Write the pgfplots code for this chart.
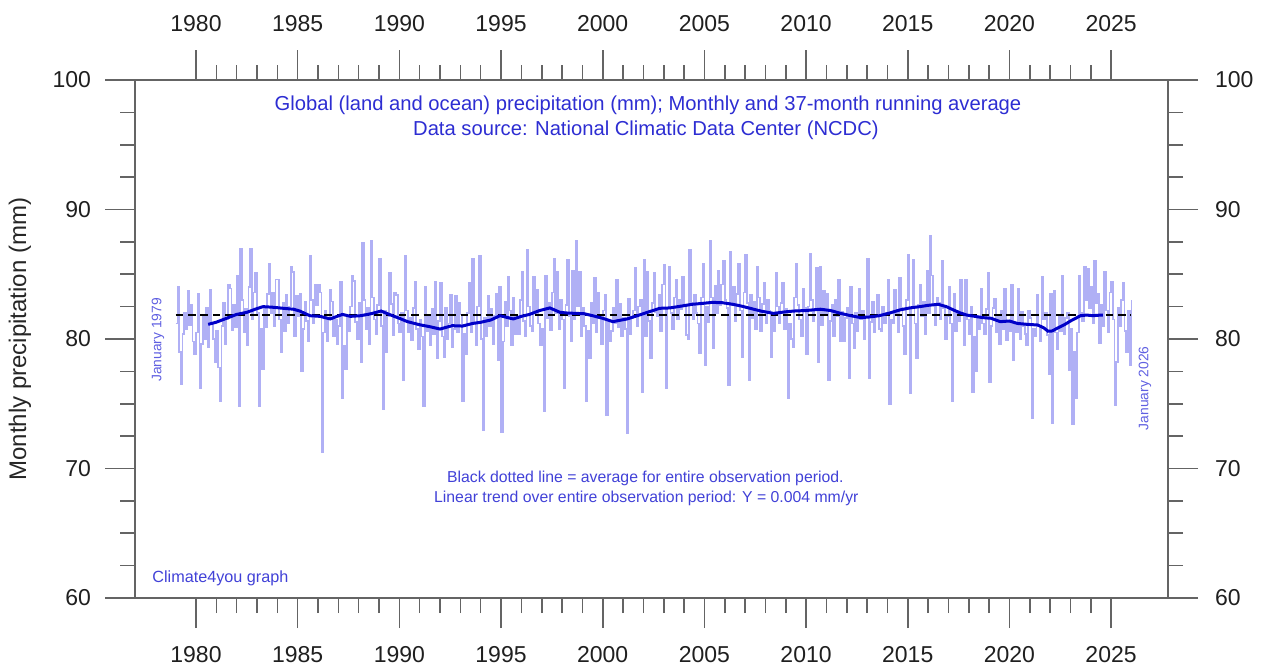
\documentclass[border=0pt]{standalone}
\usepackage{fontspec}
\setmainfont{Liberation Sans}
\usepackage{pgfplots}
\pgfplotsset{compat=1.18}
\definecolor{ttl}{RGB}{45,45,210}
\definecolor{lbl}{RGB}{65,65,215}
\definecolor{jan}{RGB}{95,95,225}
\definecolor{mon}{RGB}{176,176,245}
\definecolor{avg}{RGB}{0,0,200}
\definecolor{axg}{RGB}{100,100,100}
\pgfplotsset{
  common/.style={
    at={(0,0)}, anchor=south west,
    scale only axis, width=516.5pt, height=259pt,
    xmin=1977, xmax=2027.8, ymin=60, ymax=100,
    xtick={1980,1985,...,2025},
    ytick={60,70,80,90,100},
    tick align=outside, major tick length=15pt, minor tick length=7.5pt,
    /pgf/number format/1000 sep={},
    /pgf/number format/assume math mode=true,
    ticklabel style={font=\fontsize{11.5}{13}\selectfont, text=black!88},
  }
}
\begin{document}
\begin{tikzpicture}
\useasboundingbox (-67.5pt,-34pt) rectangle (564pt,299pt);
\begin{axis}[common,
  minor x tick num=4, minor y tick num=3,
  xtick pos=both, ytick pos=both,
  xticklabel pos=lower, yticklabel pos=left,
  xticklabel style={yshift=-5.5pt},
  yticklabel style={xshift=-3.5pt},
  axis line style={axg, line width=0.8pt},
  tick style={axg, line width=0.8pt},
  clip mode=individual,
]
\addplot[mon, line width=0.85pt, const plot mark left] table[x expr={1979+\coordindex/12}, y=p, row sep=\\] {
p\\
81.2\\ 84.0\\ 79.0\\ 76.5\\ 80.4\\ 82.0\\ 80.8\\ 83.7\\ 81.1\\ 82.6\\ 79.8\\ 78.8\\
80.5\\ 83.5\\ 76.2\\ 79.6\\ 81.8\\ 80.0\\ 82.4\\ 79.4\\ 83.8\\ 81.2\\ 80.0\\ 78.2\\
80.6\\ 77.8\\ 75.2\\ 81.0\\ 82.8\\ 79.6\\ 81.5\\ 84.2\\ 83.9\\ 80.7\\ 82.6\\ 80.9\\
84.9\\ 74.8\\ 87.0\\ 83.0\\ 80.5\\ 82.3\\ 79.5\\ 84.0\\ 87.0\\ 81.5\\ 83.6\\ 85.1\\
82.0\\ 74.8\\ 80.8\\ 77.7\\ 82.5\\ 80.9\\ 83.5\\ 85.8\\ 82.0\\ 83.6\\ 81.0\\ 84.6\\
84.6\\ 81.5\\ 79.0\\ 82.8\\ 80.6\\ 83.4\\ 81.2\\ 82.5\\ 85.6\\ 85.2\\ 80.2\\ 83.3\\
81.8\\ 83.5\\ 77.5\\ 80.8\\ 82.9\\ 81.4\\ 79.8\\ 86.4\\ 83.0\\ 81.2\\ 84.2\\ 82.6\\
84.2\\ 83.6\\ 71.3\\ 80.5\\ 82.2\\ 79.8\\ 81.6\\ 83.8\\ 82.9\\ 80.2\\ 81.5\\ 79.6\\
81.0\\ 84.4\\ 75.4\\ 79.5\\ 77.7\\ 81.8\\ 80.6\\ 82.5\\ 84.9\\ 84.5\\ 81.3\\ 80.0\\
82.8\\ 78.2\\ 87.4\\ 83.0\\ 80.8\\ 82.4\\ 79.6\\ 87.6\\ 83.2\\ 81.5\\ 80.4\\ 82.6\\
86.2\\ 81.0\\ 74.6\\ 82.2\\ 79.0\\ 81.8\\ 85.1\\ 82.7\\ 80.3\\ 83.6\\ 83.4\\ 81.2\\
80.5\\ 82.0\\ 76.8\\ 86.4\\ 82.2\\ 80.5\\ 81.6\\ 79.9\\ 82.4\\ 84.4\\ 80.8\\ 79.2\\
81.5\\ 80.2\\ 74.8\\ 84.0\\ 80.6\\ 81.8\\ 79.5\\ 82.3\\ 80.4\\ 84.4\\ 78.5\\ 81.4\\
84.3\\ 80.2\\ 78.6\\ 82.4\\ 80.0\\ 81.2\\ 83.4\\ 79.4\\ 80.8\\ 83.3\\ 80.5\\ 82.8\\
81.9\\ 75.2\\ 80.4\\ 78.8\\ 82.0\\ 84.3\\ 80.5\\ 86.2\\ 81.2\\ 79.5\\ 82.5\\ 86.4\\
80.0\\ 73.0\\ 81.6\\ 80.2\\ 83.3\\ 81.0\\ 82.3\\ 79.6\\ 81.8\\ 83.5\\ 78.4\\ 84.0\\
72.8\\ 79.8\\ 82.9\\ 81.0\\ 84.8\\ 82.2\\ 79.5\\ 83.2\\ 80.4\\ 81.6\\ 80.4\\ 83.0\\
85.2\\ 81.4\\ 80.2\\ 86.9\\ 82.5\\ 81.0\\ 80.6\\ 84.8\\ 82.0\\ 83.8\\ 81.2\\ 79.5\\
80.8\\ 74.4\\ 84.9\\ 81.6\\ 82.8\\ 80.7\\ 83.6\\ 86.2\\ 82.0\\ 85.2\\ 80.8\\ 83.0\\
81.5\\ 76.2\\ 82.6\\ 86.1\\ 81.8\\ 79.8\\ 85.3\\ 81.5\\ 87.6\\ 82.5\\ 85.2\\ 80.2\\
82.4\\ 81.0\\ 75.2\\ 80.6\\ 78.5\\ 82.8\\ 81.2\\ 84.7\\ 80.5\\ 83.6\\ 81.8\\ 79.6\\
82.2\\ 83.4\\ 74.1\\ 81.5\\ 79.8\\ 80.6\\ 82.4\\ 81.2\\ 84.6\\ 80.9\\ 82.7\\ 80.2\\
81.6\\ 80.8\\ 72.7\\ 83.1\\ 80.4\\ 81.6\\ 82.2\\ 85.5\\ 81.0\\ 82.5\\ 83.0\\ 75.9\\
86.1\\ 80.2\\ 85.2\\ 81.4\\ 78.5\\ 82.8\\ 85.1\\ 82.1\\ 81.8\\ 83.4\\ 80.6\\ 84.2\\
85.7\\ 76.2\\ 82.4\\ 85.6\\ 82.0\\ 80.8\\ 83.2\\ 84.6\\ 81.5\\ 83.0\\ 82.3\\ 84.8\\
82.6\\ 80.3\\ 80.0\\ 86.9\\ 82.8\\ 81.5\\ 83.4\\ 82.0\\ 81.2\\ 78.9\\ 83.2\\ 85.8\\
78.0\\ 82.5\\ 81.3\\ 87.6\\ 83.2\\ 79.3\\ 84.1\\ 82.0\\ 85.3\\ 82.6\\ 84.2\\ 86.0\\
83.0\\ 82.4\\ 76.4\\ 86.7\\ 82.6\\ 84.0\\ 81.4\\ 83.5\\ 85.8\\ 82.2\\ 78.6\\ 83.6\\
86.5\\ 82.8\\ 76.8\\ 83.4\\ 81.6\\ 82.9\\ 80.8\\ 85.6\\ 83.2\\ 80.6\\ 82.7\\ 84.3\\
81.2\\ 83.0\\ 82.2\\ 78.6\\ 81.8\\ 80.6\\ 85.1\\ 82.5\\ 81.2\\ 82.8\\ 84.3\\ 80.8\\
82.3\\ 75.4\\ 81.2\\ 80.0\\ 79.4\\ 83.2\\ 85.8\\ 82.6\\ 81.5\\ 80.2\\ 83.9\\ 82.4\\
78.8\\ 82.5\\ 86.6\\ 83.0\\ 81.4\\ 82.2\\ 85.5\\ 78.2\\ 85.6\\ 81.1\\ 83.7\\ 82.0\\
83.5\\ 76.8\\ 81.4\\ 82.6\\ 80.2\\ 83.0\\ 81.8\\ 84.6\\ 79.8\\ 82.1\\ 79.8\\ 81.6\\
82.4\\ 77.0\\ 84.0\\ 81.2\\ 79.3\\ 82.0\\ 80.6\\ 83.9\\ 81.5\\ 82.2\\ 80.0\\ 81.8\\
86.2\\ 77.0\\ 81.3\\ 82.9\\ 80.5\\ 81.8\\ 83.4\\ 80.8\\ 80.6\\ 82.5\\ 81.2\\ 82.0\\
84.6\\ 75.0\\ 81.5\\ 81.2\\ 83.8\\ 82.0\\ 80.5\\ 84.7\\ 82.4\\ 81.0\\ 78.8\\ 83.0\\
86.5\\ 75.8\\ 82.4\\ 86.1\\ 81.2\\ 78.5\\ 82.6\\ 84.2\\ 81.8\\ 82.9\\ 80.4\\ 85.3\\
82.0\\ 88.0\\ 84.9\\ 82.6\\ 81.1\\ 83.2\\ 82.8\\ 81.5\\ 86.0\\ 82.4\\ 80.0\\ 81.8\\
84.0\\ 81.2\\ 75.2\\ 83.5\\ 80.6\\ 82.2\\ 81.4\\ 84.6\\ 82.0\\ 79.5\\ 84.6\\ 81.5\\
80.4\\ 82.5\\ 75.9\\ 80.2\\ 77.5\\ 81.6\\ 80.8\\ 83.9\\ 81.2\\ 80.4\\ 82.3\\ 85.1\\
76.7\\ 81.0\\ 82.4\\ 83.1\\ 80.5\\ 81.8\\ 79.6\\ 82.2\\ 80.8\\ 83.9\\ 79.9\\ 81.4\\
80.6\\ 84.2\\ 78.4\\ 81.2\\ 80.5\\ 83.9\\ 80.0\\ 82.1\\ 81.0\\ 80.4\\ 79.5\\ 82.2\\
81.6\\ 73.9\\ 80.8\\ 80.2\\ 83.4\\ 81.0\\ 79.8\\ 84.8\\ 81.5\\ 82.0\\ 80.3\\ 77.3\\
83.5\\ 73.5\\ 83.7\\ 80.5\\ 79.2\\ 81.8\\ 80.6\\ 84.9\\ 80.4\\ 81.6\\ 82.0\\ 77.6\\
80.8\\ 73.4\\ 79.0\\ 75.4\\ 80.5\\ 84.9\\ 82.0\\ 81.4\\ 85.6\\ 83.0\\ 85.4\\ 82.4\\
84.0\\ 81.2\\ 86.0\\ 82.8\\ 83.5\\ 79.7\\ 82.6\\ 81.0\\ 85.2\\ 82.2\\ 80.5\\ 83.6\\
84.4\\ 81.5\\ 74.9\\ 78.2\\ 82.4\\ 81.0\\ 83.0\\ 84.3\\ 80.6\\ 79.0\\ 82.2\\ 78.0\\
83.0\\
};
\addplot[black, line width=0.8pt, dash pattern=on 3.8pt off 2.4pt] coordinates {(1979,81.85) (2026,81.85)};
\addplot[avg, line width=1.5pt] coordinates {
(1980.6,81.13) (1981.0,81.3) (1981.5,81.6) (1982.0,81.9) (1982.5,82.06) (1983.0,82.35)
(1983.3,82.5) (1983.8,82.45) (1984.3,82.37) (1984.8,82.3) (1985.1,82.16) (1985.6,81.8)
(1986.1,81.75) (1986.6,81.55) (1987.2,81.9) (1987.6,81.75) (1988.1,81.8) (1988.6,81.95)
(1989.1,82.16) (1989.5,81.9) (1990.0,81.6) (1990.4,81.34) (1991.0,81.1) (1991.5,80.95)
(1992.0,80.77) (1992.6,81.03) (1993.1,81.0) (1993.6,81.2) (1994.0,81.29) (1994.5,81.47)
(1994.95,81.8) (1995.6,81.55) (1996.0,81.75) (1996.4,81.9) (1996.9,82.2) (1997.4,82.4)
(1997.9,82.06) (1998.3,82.0) (1998.7,81.98) (1999.1,81.95) (1999.5,81.8) (2000.0,81.6)
(2000.5,81.34) (2001.2,81.55) (2001.7,81.8) (2002.2,82.06) (2002.8,82.37) (2003.3,82.4)
(2003.9,82.55) (2004.4,82.68) (2004.9,82.75) (2005.4,82.83) (2005.9,82.8) (2006.4,82.68)
(2006.8,82.55) (2007.25,82.37) (2007.8,82.15) (2008.4,81.98) (2009.0,82.1) (2009.4,82.16)
(2010.0,82.2) (2010.7,82.3) (2011.2,82.2) (2011.7,81.98) (2012.2,81.8) (2012.7,81.65)
(2013.1,81.7) (2013.6,81.8) (2014.1,82.0) (2014.6,82.24) (2015.1,82.4) (2015.6,82.5)
(2016.0,82.6) (2016.5,82.68) (2016.9,82.5) (2017.25,82.24) (2017.6,82.0) (2017.9,81.85)
(2018.3,81.75) (2018.7,81.65) (2019.1,81.6) (2019.55,81.34) (2020.0,81.39) (2020.4,81.2)
(2020.9,81.13) (2021.4,81.08) (2021.7,80.85) (2021.9,80.6) (2022.1,80.62) (2022.4,80.87)
(2022.7,81.1) (2023.0,81.39) (2023.5,81.8) (2023.8,81.85) (2024.1,81.8) (2024.5,81.85)
(2024.6,81.85)
};
\node[text=ttl, font=\fontsize{10.1}{12}\selectfont] at (rel axis cs:0.4966,0.952) {Global (land and ocean) precipitation (mm); Monthly and 37-month running average};
\node[text=ttl, font=\fontsize{10.1}{12}\selectfont] at (rel axis cs:0.4946,0.9035) {Data source: National Climatic Data Center (NCDC)};
\node[text=lbl, font=\fontsize{7.9}{9}\selectfont] at (rel axis cs:0.494,0.2317) {Black dotted line = average for entire observation period.};
\node[text=lbl, font=\fontsize{7.9}{9}\selectfont] at (rel axis cs:0.495,0.193) {Linear trend over entire observation period: Y = 0.004 mm/yr};
\node[text=lbl, font=\fontsize{8.1}{9}\selectfont, anchor=west, inner sep=0pt] at (rel axis cs:0.0165,0.0386) {Climate4you graph};
\node[text=jan, font=\fontsize{6.9}{8}\selectfont, rotate=90] at (rel axis cs:0.0223,0.498) {January 1979};
\node[text=jan, font=\fontsize{6.9}{8}\selectfont, rotate=90] at (rel axis cs:0.9777,0.405) {January 2026};
\node[text=black!85, font=\fontsize{12}{14}\selectfont, rotate=90] at (rel axis cs:-0.1113,0.5) {Monthly precipitation (mm)};
\end{axis}
\begin{axis}[common,
  xticklabel pos=upper, yticklabel pos=right,
  xticklabel style={yshift=5.5pt},
  yticklabel style={xshift=5pt},
  axis line style={draw=none}, tick style={draw=none},
  minor tick num=0,
]
\end{axis}
\end{tikzpicture}
\end{document}
